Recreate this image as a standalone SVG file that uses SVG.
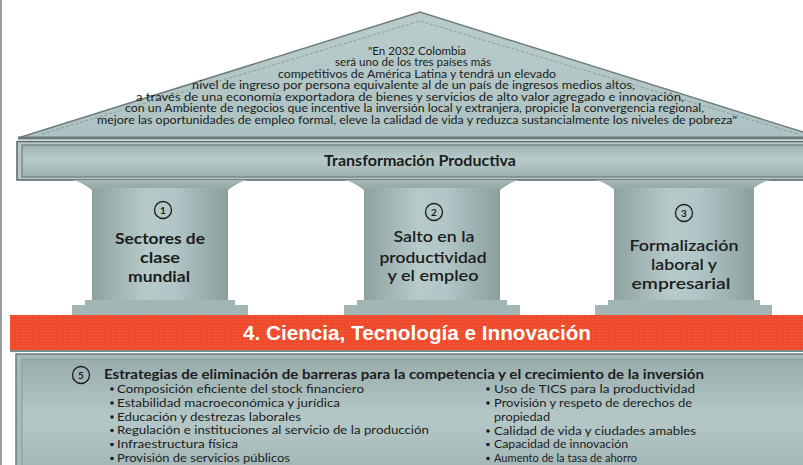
<svg xmlns="http://www.w3.org/2000/svg" width="803" height="465" viewBox="0 0 803 465">
<defs>
<linearGradient id="gRoof" x1="0" y1="0" x2="0" y2="1">
<stop offset="0" stop-color="#b9cccc"/><stop offset="1" stop-color="#adc2c2"/>
</linearGradient>
<linearGradient id="gBeam" x1="0" y1="0" x2="0" y2="1">
<stop offset="0" stop-color="#9fb3b3"/><stop offset="0.45" stop-color="#b7cbcb"/><stop offset="1" stop-color="#9cb0b0"/>
</linearGradient>
<linearGradient id="gShaft" x1="0" y1="0" x2="1" y2="0">
<stop offset="0" stop-color="#8ea2a2"/><stop offset="0.4" stop-color="#b6caca"/><stop offset="0.6" stop-color="#b1c6c6"/><stop offset="1" stop-color="#8c9f9f"/>
</linearGradient>
<linearGradient id="gCap" x1="0" y1="0" x2="0" y2="1">
<stop offset="0" stop-color="#a7baba"/><stop offset="1" stop-color="#90a4a4"/>
</linearGradient>
<linearGradient id="gBox" x1="0" y1="0" x2="0" y2="1">
<stop offset="0" stop-color="#9aadad"/><stop offset="0.5" stop-color="#b4c8c8"/><stop offset="1" stop-color="#a0b3b3"/>
</linearGradient>
<pattern id="pDots" width="3" height="3" patternUnits="userSpaceOnUse">
<rect width="3" height="3" fill="#f04a2a"/><rect x="1" y="1" width="1" height="1" fill="#e56a52"/>
</pattern>
</defs>
<style>
.t{font-family:"Lato","Liberation Sans",sans-serif;fill:#1c1c1c}
.roof{font-size:10.5px}
.pil{font-size:15.5px;font-weight:700;text-anchor:middle}
.pil2{font-size:15.5px;font-weight:600;text-anchor:middle}
.num{font-size:10px;font-weight:700;text-anchor:middle}
.ring{fill:none;stroke:#1c1c1c;stroke-width:1.3}
.li{font-size:11.5px}
.bul{fill:#1c1c1c}
.shaft{fill:url(#gShaft)}
.cap{fill:url(#gCap)}
.base{fill:#a3b6b6}
</style>
<line x1="1" y1="0" x2="1" y2="465" stroke="#7a7a7a" stroke-width="1.5"/>
<g id="roof">
<polygon points="18,138 420,12 822,138" fill="url(#gRoof)" stroke="#6f7d7d" stroke-width="1.5"/>
<polyline points="42,134 420,21 798,134" fill="none" stroke="#8c9c9c" stroke-width="1" stroke-dasharray="3,2"/>
<rect x="18" y="136.5" width="785" height="3" fill="#6b7878"/>
<text class="t roof" x="368" y="54.5" textLength="98" lengthAdjust="spacingAndGlyphs">"En 2032 Colombia</text>
<text class="t roof" x="335" y="66" textLength="156" lengthAdjust="spacingAndGlyphs">será uno de los tres países más</text>
<text class="t roof" x="278" y="77.5" textLength="278" lengthAdjust="spacingAndGlyphs">competitivos de América Latina  y tendrá un elevado</text>
<text class="t roof" x="192" y="89" textLength="443" lengthAdjust="spacingAndGlyphs">nivel de ingreso por persona equivalente al de un país de ingresos medios altos,</text>
<text class="t roof" x="136" y="100.5" textLength="548" lengthAdjust="spacingAndGlyphs">a través de una economía exportadora de bienes y servicios de alto valor agregado e innovación,</text>
<text class="t roof" x="125" y="112" textLength="579" lengthAdjust="spacingAndGlyphs">con un Ambiente de negocios que incentive la inversión local y extranjera, propicie la convergencia regional,</text>
<text class="t roof" x="97" y="123.5" textLength="640" lengthAdjust="spacingAndGlyphs">mejore las oportunidades de empleo formal, eleve la calidad de vida y  reduzca sustancialmente los niveles de pobreza"</text>
</g>
<g id="entablature">
<rect x="17" y="141.5" width="790" height="38.5" fill="#b5c8c8" stroke="#5f6d6d" stroke-width="1.6"/>
<rect x="22" y="145" width="790" height="32" fill="url(#gBeam)" stroke="#6e7c7c" stroke-width="1.2"/>
<text class="t" x="420" y="166" font-size="15" font-weight="700" text-anchor="middle" textLength="192" lengthAdjust="spacingAndGlyphs">Transformación Productiva</text>
</g>
<g id="pillar1">
<path class="cap" d="M72,180 H248 Q240,181 228,190 H92 Q80,181 72,180 Z"/>
<rect class="shaft" x="92" y="188" width="136" height="114"/>
<rect class="base" x="85" y="300" width="150" height="6"/>
<rect class="base" x="72" y="305" width="176" height="10" fill="#9fb2b2"/>
<circle class="ring" cx="163" cy="210" r="8.5"/>
<text class="t num" x="163" y="213.5">1</text>
<text class="t pil" x="160" y="244" textLength="90" lengthAdjust="spacingAndGlyphs">Sectores de</text>
<text class="t pil" x="160" y="263" textLength="40" lengthAdjust="spacingAndGlyphs">clase</text>
<text class="t pil" x="159" y="282" textLength="62" lengthAdjust="spacingAndGlyphs">mundial</text>
</g>
<g id="pillar2">
<path class="cap" d="M344,180 H520 Q512,181 500,190 H364 Q352,181 344,180 Z"/>
<rect class="shaft" x="364" y="188" width="136" height="114"/>
<rect class="base" x="357" y="300" width="150" height="6"/>
<rect class="base" x="344" y="305" width="176" height="10"/>
<circle class="ring" cx="434" cy="212" r="8.5"/>
<text class="t num" x="434" y="215.5">2</text>
<text class="t pil2" x="434" y="242" textLength="81" lengthAdjust="spacingAndGlyphs">Salto en la</text>
<text class="t pil2" x="433" y="263" textLength="107" lengthAdjust="spacingAndGlyphs">productividad</text>
<text class="t pil2" x="433" y="281" textLength="91" lengthAdjust="spacingAndGlyphs">y el empleo</text>
</g>
<g id="pillar3">
<path class="cap" d="M595,180 H771 Q763,181 751,190 H615 Q603,181 595,180 Z"/>
<rect class="shaft" x="614" y="188" width="140" height="114"/>
<rect class="base" x="608" y="300" width="152" height="6"/>
<rect class="base" x="595" y="305" width="177" height="10"/>
<circle class="ring" cx="684" cy="213" r="8.5"/>
<text class="t num" x="684" y="216.5">3</text>
<text class="t pil2" x="684" y="251" textLength="109" lengthAdjust="spacingAndGlyphs">Formalización</text>
<text class="t pil2" x="684" y="270" textLength="66" lengthAdjust="spacingAndGlyphs">laboral y</text>
<text class="t pil2" x="681" y="289" textLength="99" lengthAdjust="spacingAndGlyphs">empresarial</text>
</g>
<g id="band">
<rect x="10" y="315" width="800" height="35" fill="url(#pDots)"/>
<text x="417" y="340" font-family="'Liberation Sans',Arial,sans-serif" font-size="20" font-weight="700" fill="#ffffff" text-anchor="middle" textLength="348" lengthAdjust="spacingAndGlyphs">4. Ciencia, Tecnología e Innovación</text>
</g>
<g id="strategies">
<rect x="10" y="350" width="800" height="2" fill="#7d8a8a"/>
<rect x="16" y="354" width="800" height="120" fill="#a7baba" stroke="#6e7c7c" stroke-width="1.5"/>
<rect x="22" y="359" width="800" height="120" fill="url(#gBox)" stroke="#8a9a9a" stroke-width="1"/>
<circle class="ring" cx="81" cy="375" r="8.5"/>
<text class="t num" x="81" y="378.5">5</text>
<text class="t" x="104" y="378.5" font-size="13.5" font-weight="700" textLength="600" lengthAdjust="spacingAndGlyphs">Estrategias de eliminación de barreras para la competencia y el crecimiento de la inversión</text>
<g class="bul">
<circle cx="112" cy="389" r="1.8"/><circle cx="112" cy="403" r="1.8"/><circle cx="112" cy="417" r="1.8"/><circle cx="112" cy="430.5" r="1.8"/><circle cx="112" cy="444.5" r="1.8"/><circle cx="112" cy="458.5" r="1.8"/>
<circle cx="488" cy="389" r="1.8"/><circle cx="488" cy="403" r="1.8"/><circle cx="488" cy="431" r="1.8"/><circle cx="488" cy="444.5" r="1.8"/><circle cx="488" cy="458.5" r="1.8"/>
</g>
<text class="t li" x="117" y="392.5" textLength="247" lengthAdjust="spacingAndGlyphs">Composición eficiente del stock financiero</text>
<text class="t li" x="117" y="406.5" textLength="223" lengthAdjust="spacingAndGlyphs">Estabilidad macroeconómica y jurídica</text>
<text class="t li" x="117" y="420.5" textLength="184" lengthAdjust="spacingAndGlyphs">Educación y destrezas laborales</text>
<text class="t li" x="117" y="434" textLength="312" lengthAdjust="spacingAndGlyphs">Regulación e instituciones al servicio de la producción</text>
<text class="t li" x="117" y="448" textLength="121" lengthAdjust="spacingAndGlyphs">Infraestructura física</text>
<text class="t li" x="117" y="462" textLength="173" lengthAdjust="spacingAndGlyphs">Provisión de servicios públicos</text>
<text class="t li" x="494" y="392.5" textLength="201" lengthAdjust="spacingAndGlyphs">Uso de TICS para la productividad</text>
<text class="t li" x="494" y="406.5" textLength="198" lengthAdjust="spacingAndGlyphs">Provisión y respeto de derechos de</text>
<text class="t li" x="494" y="420.5" textLength="56" lengthAdjust="spacingAndGlyphs">propiedad</text>
<text class="t li" x="494" y="434.5" textLength="202" lengthAdjust="spacingAndGlyphs">Calidad de vida y ciudades amables</text>
<text class="t li" x="494" y="448" textLength="134" lengthAdjust="spacingAndGlyphs">Capacidad de innovación</text>
<text class="t li" x="494" y="462" textLength="143" lengthAdjust="spacingAndGlyphs">Aumento de la tasa de ahorro</text>
</g>
<g id="connectors"/>
</svg>
